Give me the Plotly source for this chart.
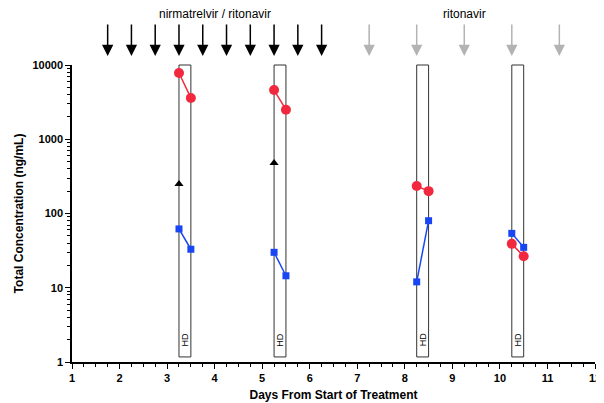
import numpy as np
import plotly.graph_objects as go

# Data
nirm_x = [3.25, 3.5, 5.25, 5.5, 8.25, 8.5, 10.25, 10.5]
nirm_y = [7800, 3600, 4600, 2500, 235, 200, 39, 26.5]
rit_x = [3.25, 3.5, 5.25, 5.5, 8.25, 8.5, 10.25, 10.5]
rit_y = [62, 33, 30, 14.5, 12, 80, 54, 35]
tri_x = [3.25, 5.25]
tri_y = [250, 480]
hd_start = [3.25, 5.25, 8.25, 10.25]
hd_end = [3.5, 5.5, 8.5, 10.5]
nr_doses = [1.75, 2.25, 2.75, 3.25, 3.75, 4.25, 4.75, 5.25, 5.75, 6.25]
r_doses = [7.25, 8.25, 9.25, 10.25, 11.25]
x_ticks = list(range(1, 13))
y_ticks = [1, 10, 100, 1000, 10000]

RED = "#f2283f"
BLUE = "#1846f5"
FONT = "Liberation Sans, Arial, sans-serif"


def pairs(xs, ys):
    ox, oy = [], []
    for i in range(0, len(xs), 2):
        ox += [xs[i], xs[i + 1], None]
        oy += [ys[i], ys[i + 1], None]
    return ox, oy


fig = go.Figure()

shapes = []
annotations = []
for a, b in zip(hd_start, hd_end):
    shapes.append(dict(type="rect", xref="x", yref="paper", x0=a, x1=b, y0=0.017, y1=1.0,
                       line=dict(color="#333333", width=1), fillcolor="white", layer="below"))
    annotations.append(dict(x=(a + b) / 2, xref="x", y=0.045, yref="paper", text="HD",
                            showarrow=False, textangle=-90,
                            font=dict(family=FONT, size=9, color="black")))

rx, ry = pairs(nirm_x, nirm_y)
fig.add_trace(go.Scatter(x=rx, y=ry, mode="lines+markers",
                         line=dict(color=RED, width=1.5),
                         marker=dict(symbol="circle", size=10, color=RED),
                         showlegend=False, cliponaxis=False))
bx, by = pairs(rit_x, rit_y)
fig.add_trace(go.Scatter(x=bx, y=by, mode="lines+markers",
                         line=dict(color=BLUE, width=1.5),
                         marker=dict(symbol="square", size=7, color=BLUE),
                         showlegend=False, cliponaxis=False))
fig.add_trace(go.Scatter(x=tri_x, y=tri_y, mode="markers",
                         marker=dict(symbol="triangle-up", size=8, color="black"),
                         showlegend=False))

for d in nr_doses:
    annotations.append(dict(x=d, xref="x", y=1.03, yref="paper", ax=0, ay=-33,
                            showarrow=True, arrowhead=2, arrowsize=1.5, arrowwidth=1.5,
                            arrowcolor="black", text=""))
for d in r_doses:
    annotations.append(dict(x=d, xref="x", y=1.03, yref="paper", ax=0, ay=-33,
                            showarrow=True, arrowhead=2, arrowsize=1.5, arrowwidth=1.5,
                            arrowcolor="#b3b3b3", text=""))

annotations.append(dict(x=np.mean(nr_doses), xref="x", y=1.142, yref="paper", yanchor="bottom",
                        text="nirmatrelvir / ritonavir", showarrow=False,
                        font=dict(family=FONT, size=12, color="black")))
annotations.append(dict(x=np.mean(r_doses), xref="x", y=1.142, yref="paper", yanchor="bottom",
                        text="ritonavir", showarrow=False,
                        font=dict(family=FONT, size=12, color="black")))

# page body has an 8px default margin; size the figure so the plot lands in place
fig.update_layout(
    width=596, height=395,
    margin=dict(l=64, r=9, t=57, b=41, autoexpand=False),
    plot_bgcolor="white", paper_bgcolor="white",
    shapes=shapes, annotations=annotations,
    font=dict(family=FONT, color="black"),
    xaxis=dict(range=[1, 12], tickvals=x_ticks, ticktext=[f"<b>{v}</b>" for v in x_ticks],
               ticks="outside", ticklen=5, tickwidth=1.3, tickcolor="black", automargin=False,
               showline=True, linecolor="black", linewidth=1.5, showgrid=False, zeroline=False,
               minor=dict(dtick=0.25, ticks="outside", ticklen=3, tickwidth=1, tickcolor="black", showgrid=False),
               tickfont=dict(size=11),
               title=dict(text="<b>Days From Start of Treatment</b>", font=dict(size=12), standoff=8)),
    yaxis=dict(type="log", range=[0, 4], tickvals=y_ticks, ticktext=[f"<b>{v}</b>" for v in y_ticks],
               ticks="outside", ticklen=5, tickwidth=1.3, tickcolor="black", automargin=False,
               showline=True, linecolor="black", linewidth=1.5, showgrid=False, zeroline=False,
               minor=dict(dtick="D1", ticks="outside", ticklen=3, tickwidth=1, tickcolor="black", showgrid=False),
               tickfont=dict(size=11),
               title=dict(text="<b>Total Concentration (ng/mL)</b>", font=dict(size=12), standoff=6)),
)

fig.write_html("out.html")
